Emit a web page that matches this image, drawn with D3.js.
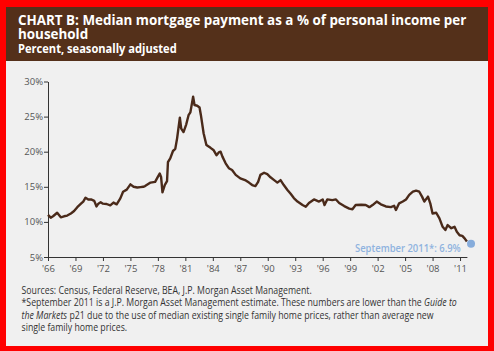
<!DOCTYPE html>
<html><head><meta charset="utf-8">
<script src="https://cdn.jsdelivr.net/npm/d3@7"></script>
<style>
html,body{margin:0;padding:0;background:#fff;}
svg{display:block;}
text{font-family:"Open Sans","Noto Sans",sans-serif;}
</style></head>
<body>
<script>
// ---- data (year as decimal, value in %) ----
const years = [1966.0,1966.3,1966.55,1967.0,1967.4,1967.75,1968.1,1968.5,1968.85,1969.2,1969.6,1969.85,1970.1,1970.4,1970.7,1971.05,1971.3,1971.5,1971.75,1972.0,1972.4,1972.8,1973.15,1973.5,1973.9,1974.2,1974.6,1975.0,1975.35,1975.75,1976.1,1976.4,1976.6,1977.2,1977.7,1977.95,1978.2,1978.35,1978.5,1978.75,1979.0,1979.1,1979.35,1979.65,1979.9,1980.1,1980.4,1980.55,1980.8,1981.1,1981.35,1981.55,1981.85,1982.0,1982.3,1982.55,1982.7,1983.0,1983.3,1983.75,1984.1,1984.4,1984.65,1984.85,1985.05,1985.4,1985.75,1986.1,1986.5,1987.0,1987.6,1987.95,1988.3,1988.65,1988.95,1989.2,1989.6,1989.95,1990.3,1990.7,1991.05,1991.4,1991.75,1992.15,1992.5,1992.85,1993.25,1993.8,1994.15,1994.5,1995.05,1995.6,1996.0,1996.2,1996.5,1997.05,1997.45,1997.8,1998.35,1998.9,1999.25,1999.6,2000.2,2000.7,2001.1,2001.45,2001.9,2002.35,2002.9,2003.45,2003.8,2004.0,2004.35,2004.75,2005.1,2005.45,2005.85,2006.2,2006.55,2006.85,2007.1,2007.5,2007.75,2008.0,2008.4,2008.75,2009.1,2009.4,2009.65,2010.05,2010.4,2010.65,2010.95,2011.25,2011.5,2011.75];
const values = [11.0,10.6,10.8,11.3,10.65,10.8,10.9,11.2,11.55,12.1,12.6,12.9,13.45,13.2,13.2,13.0,12.2,12.6,12.8,12.6,12.55,12.35,12.75,12.5,13.35,14.3,14.6,15.35,15.0,14.9,14.95,15.0,15.1,15.6,15.7,16.3,16.9,16.4,14.2,15.25,15.8,18.5,19.05,20.1,20.4,21.9,24.85,23.3,22.8,23.9,25.2,25.6,27.85,26.65,26.55,26.3,25.2,22.6,20.95,20.55,20.2,19.5,19.9,20.0,19.3,18.35,17.65,17.4,16.7,16.2,15.9,15.6,15.25,15.1,15.7,16.7,17.0,16.8,16.35,15.95,15.6,15.95,15.25,14.55,14.0,13.4,12.9,12.4,12.15,12.7,13.2,12.9,13.2,12.4,13.2,13.1,13.2,12.7,12.25,11.9,11.8,12.4,12.45,12.4,12.1,12.4,12.9,12.5,12.2,12.1,12.3,11.7,12.65,12.9,13.2,13.85,14.3,14.45,14.3,13.6,12.9,13.6,12.65,11.2,11.3,10.5,9.3,8.85,9.55,9.1,9.3,8.6,8.1,8.0,7.65,7.2];
const estimateYear = 2012.2;
const estimateValue = 6.9;
const estimateLabel = "September 2011*: 6.9%";
const yTicks = [5,10,15,20,25,30];
const xTicks = [1966,1969,1972,1975,1978,1981,1984,1987,1990,1993,1996,1999,2002,2005,2008,2011];
const titleLines = ["CHART B: Median mortgage payment as a % of personal income per", "household"];
const subtitle = "Percent, seasonally adjusted";
// footnote lines: array of [text, italic?] runs
const noteLines = [
  [["Sources: Census, Federal Reserve, BEA, J.P. Morgan Asset Management.", false]],
  [["*September 2011 is a J.P. Morgan Asset Management estimate. These numbers are lower than the ", false], ["Guide to", true]],
  [["the Markets", true], [" p21 due to the use of median existing single family home prices, rather than average new", false]],
  [["single family home prices.", false]]
];

const W = 494, H = 351;
const svg = d3.select("body").append("svg").attr("width", W).attr("height", H);

// frame
svg.append("rect").attr("x",0).attr("y",0).attr("width",W).attr("height",H).attr("fill","#ff0000");
svg.append("rect").attr("x",6).attr("y",7).attr("width",482).attr("height",339).attr("fill","#f0f0f0");
svg.append("rect").attr("x",6).attr("y",7).attr("width",482).attr("height",54).attr("fill","#54301a");

// one text block, several lines; horizontally scaled so line `ref` has width `target`
function block(lines, x, y0, dy, ref, target, opts){
  const g = svg.append("g");
  const t = g.append("text");
  Object.entries(opts).forEach(([k,v]) => t.attr(k, v));
  const spans = lines.map((runs, i) => {
    const line = t.append("tspan").attr("x",0).attr("y", i*dy);
    runs.forEach(([s, it]) => {
      const sp = line.append("tspan").text(s);
      if (it) sp.attr("font-style","italic");
    });
    return line;
  });
  const L = spans[ref].node().getComputedTextLength();
  const s = L > 0 ? target / L : 1;
  g.attr("transform", `translate(${x},${y0}) scale(${s},1)`);
  return t;
}

block(titleLines.map(s => [[s,false]]), 18, 25, 14, 0, 449, {fill:"#fff","font-size":14,"font-weight":700});
block([[[subtitle,false]]], 18, 53, 0, 0, 159, {fill:"#fff","font-size":11.5,"font-weight":700});

// scales
const x = d3.scaleLinear().domain([1966, 2011.75]).range([48, 466.9]);
const y = d3.scaleLinear().domain([5, 30]).range([257, 81.5]);

// axes
const ax = svg.append("g").attr("transform","translate(0,257)")
  .call(d3.axisBottom(x).tickValues(xTicks).tickSize(4).tickSizeOuter(0).tickPadding(4)
    .tickFormat(d => "'" + String(d).slice(2)));
const ay = svg.append("g").attr("transform","translate(48,0)")
  .call(d3.axisLeft(y).tickValues(yTicks).tickSize(4).tickSizeOuter(0).tickPadding(3)
    .tickFormat(d => d + "%"));
[ax, ay].forEach(g => {
  g.select(".domain").attr("stroke","#333").attr("stroke-width",1);
  g.selectAll(".tick line").attr("stroke","#333");
  g.selectAll(".tick text").attr("fill","#555").attr("font-size",9.5)
    .attr("font-family","'Open Sans','Noto Sans',sans-serif");
});
ay.selectAll(".tick text").attr("x",-5);

// line
const data = years.map((yr,i) => ({yr, v: values[i]}));
svg.append("path").datum(data)
  .attr("fill","none").attr("stroke","#4a2a1a").attr("stroke-width",2.4)
  .attr("stroke-linejoin","round")
  .attr("d", d3.line().x(d => x(d.yr)).y(d => y(d.v)));

// estimate dot + label
svg.append("circle").attr("cx", x(estimateYear)).attr("cy", y(estimateValue)).attr("r",4)
  .attr("fill","#86acdb");
block([[[estimateLabel,false]]], 355, 252, 0, 0, 106, {fill:"#8fb3df","font-size":10.5,"font-weight":600});

// footnotes
block(noteLines, 21.5, 294, 12.5, 1, 436, {fill:"#333","font-size":10});
</script>
</body></html>
